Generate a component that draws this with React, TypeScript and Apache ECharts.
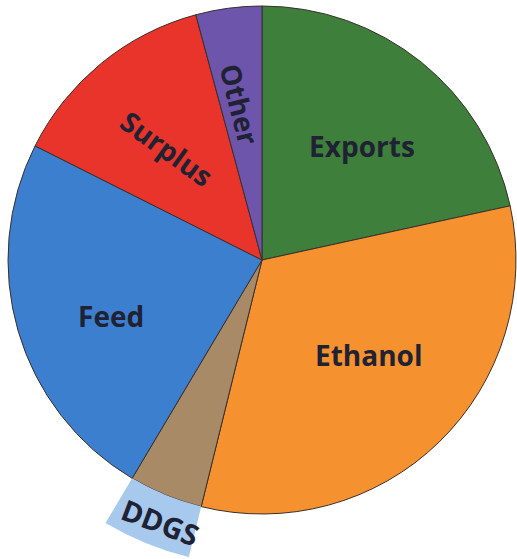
import React, { useEffect, useRef } from "react";
import * as echarts from "echarts";

const categories = ["Exports", "Ethanol", "DDGS", "Feed", "Surplus", "Other"];
const values = [21.6, 32.3, 4.7, 23.9, 13.4, 4.2];
const sliceColors = ["#3d7f3b", "#f6912f", "#a88a66", "#3d7fcf", "#e8342b", "#6d55ac"];
const labelRotations = [0, 0, -21, 0, -36, -76];
const labelShifts = [[4, 5], [0, -15], [6, 0], [-4, 13], [2, 7], [-2, -4]];
const calloutCategory = "DDGS";
const calloutColor = "#a7c9ee";

export default function App() {
  const ref = useRef<HTMLDivElement>(null);
  useEffect(() => {
    if (!ref.current) return;
    const chart = echarts.init(ref.current, null, { renderer: "svg" });
    const center = [262, 260];

    const labelFor = (i: number, show: boolean) => {
      const rot = labelRotations[i];
      const r = (rot * Math.PI) / 180;
      const [dx, dy] = labelShifts[i];
      const lx = dx * Math.cos(r) - dy * Math.sin(r);
      const ly = dx * Math.sin(r) + dy * Math.cos(r);
      const vh = Math.round(Math.abs(2 * ly));
      const hw = Math.round(Math.abs(2 * lx));
      const size = categories[i] === calloutCategory ? 29 : 28;
      let textLine = `{t|${categories[i]}}`;
      if (hw > 0) textLine = lx >= 0 ? `{hs|}${textLine}` : `${textLine}{hs|}`;
      let fmt = textLine;
      if (vh > 0) fmt = ly >= 0 ? `{vs|}\n${textLine}` : `${textLine}\n{vs|}`;
      return {
        show,
        position: "inside",
        rotate: rot,
        formatter: fmt,
        rich: {
          t: {
            fontFamily: "Open Sans",
            fontWeight: "bold",
            fontSize: size,
            lineHeight: size + 4,
            color: "#1f2233",
          },
          hs: { width: hw, height: 1, fontSize: 1, lineHeight: 1 },
          vs: { width: 1, height: vh, fontSize: 1, lineHeight: vh },
        },
      };
    };

    chart.setOption({
      animation: false,
      backgroundColor: "#ffffff",
      series: [
        {
          type: "pie",
          center,
          radius: 254,
          silent: true,
          startAngle: 90,
          clockwise: true,
          label: { show: false },
          labelLine: { show: false },
          itemStyle: { borderColor: "#3a302c", borderWidth: 1 },
          data: categories.map((name, i) => ({
            name,
            value: values[i],
            itemStyle: { color: sliceColors[i] },
          })),
        },
        {
          type: "pie",
          center,
          radius: [254, 306],
          silent: true,
          startAngle: 90,
          clockwise: true,
          labelLine: { show: false },
          data: categories.map((name, i) => ({
            name,
            value: values[i],
            itemStyle: {
              color: name === calloutCategory ? calloutColor : "rgba(0,0,0,0)",
              borderWidth: 0,
            },
            label: labelFor(i, name === calloutCategory),
          })),
        },
        {
          type: "pie",
          center,
          radius: [0, 300],
          silent: true,
          startAngle: 90,
          clockwise: true,
          labelLine: { show: false },
          data: categories.map((name, i) => ({
            name,
            value: values[i],
            itemStyle: { color: "rgba(0,0,0,0)", borderWidth: 0 },
            label: labelFor(i, name !== calloutCategory),
          })),
        },
      ],
    });
    return () => chart.dispose();
  }, []);
  return (
    <div
      ref={ref}
      style={{ position: "fixed", left: 0, top: 0, width: 517, height: 559 }}
    />
  );
}
